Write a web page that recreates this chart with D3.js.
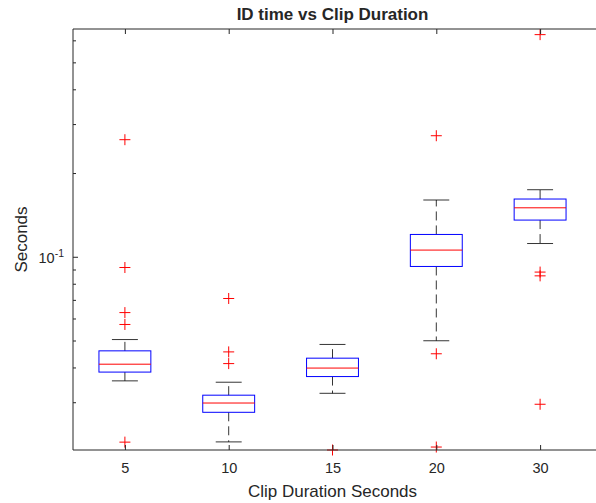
<!DOCTYPE html>
<html>
<head>
<meta charset="utf-8">
<script src="https://cdn.jsdelivr.net/npm/d3@7"></script>
<style>
  body { margin: 0; background: #fff; }
  text { font-family: "Liberation Sans", Arial, sans-serif; fill: #262626; }
</style>
</head>
<body>
<svg id="chart"></svg>
<script>
const svgWidth = 596
const svgHeight = 503

// clip durations (categories)
const categories = ["5", "10", "15", "20", "30"]
// box summaries in seconds
const whiskerLow  = [0.0358, 0.0216, 0.0323, 0.0499, 0.1116]
const q1          = [0.0385, 0.0276, 0.0371, 0.0923, 0.1355]
const medians     = [0.0411, 0.0298, 0.0398, 0.1057, 0.1500]
const q3          = [0.0459, 0.0318, 0.0432, 0.1203, 0.1613]
const whiskerHigh = [0.0504, 0.0354, 0.0484, 0.1600, 0.1742]
const outliers = [
  [0.2636, 0.0915, 0.0630, 0.0571, 0.02156],
  [0.0708, 0.0455, 0.0413],
  [0.0202],
  [0.2724, 0.0448, 0.0207],
  [0.629, 0.0881, 0.0854, 0.0295]
]
const yMajor = [0.1]
const yMinor = [0.03, 0.04, 0.05, 0.06, 0.07, 0.08, 0.09, 0.2, 0.3, 0.4, 0.5, 0.6]

let margin = { top: 29, left: 73, bottom: 53 }
let plotRight = 592
let height = svgHeight - margin.top - margin.bottom

let svg = d3.select("#chart")
  .attr("width", svgWidth)
  .attr("height", svgHeight)

let x = d3.scaleLinear()
  .domain([0.5, categories.length + 0.5])
  .range([margin.left, plotRight])

let y = d3.scaleLog()
  .domain([0.0202, 0.659])
  .range([margin.top + height, margin.top])

let boxW = (x(1) - x(0.5))   // half unit = 0.5 box width in data units
let capW = boxW / 2

// boxes
let groups = svg.append("g")
  .selectAll("g")
  .data(categories)
  .enter()
  .append("g")

groups.each(function(c, i) {
  let g = d3.select(this)
  let cx = x(i + 1)

  // dashed whiskers
  g.append("line")
    .attr("x1", cx).attr("x2", cx)
    .attr("y1", y(q3[i])).attr("y2", y(whiskerHigh[i]))
    .attr("stroke", "#000").attr("stroke-width", 0.8)
    .attr("stroke-dasharray", "9,5")
  g.append("line")
    .attr("x1", cx).attr("x2", cx)
    .attr("y1", y(q1[i])).attr("y2", y(whiskerLow[i]))
    .attr("stroke", "#000").attr("stroke-width", 0.8)
    .attr("stroke-dasharray", "9,5")

  // caps
  ;[whiskerLow[i], whiskerHigh[i]].forEach(v => {
    g.append("line")
      .attr("x1", cx - capW / 2).attr("x2", cx + capW / 2)
      .attr("y1", y(v)).attr("y2", y(v))
      .attr("stroke", "#000").attr("stroke-width", 0.8)
  })

  g.append("rect")
    .attr("x", cx - boxW / 2)
    .attr("width", boxW)
    .attr("y", y(q3[i]))
    .attr("height", y(q1[i]) - y(q3[i]))
    .attr("fill", "none")
    .attr("stroke", "#0000ff")
    .attr("stroke-width", 1)

  g.append("line")
    .attr("x1", cx - boxW / 2).attr("x2", cx + boxW / 2)
    .attr("y1", y(medians[i])).attr("y2", y(medians[i]))
    .attr("stroke", "#ff0000").attr("stroke-width", 1)

  outliers[i].forEach(v => {
    let py = y(v)
    g.append("path")
      .attr("d", `M${cx - 5.5},${py}H${cx + 5.5}M${cx},${py - 5.5}V${py + 5.5}`)
      .attr("stroke", "#ff0000").attr("stroke-width", 1)
  })
})

// axes: ticks point inward like MATLAB
let bottomAxis = d3.axisBottom(x)
  .tickValues(d3.range(1, categories.length + 1))
  .tickFormat(d => categories[d - 1])
  .tickSizeInner(-5).tickSizeOuter(0).tickPadding(13)

let xAxis = svg.append("g")
  .attr("transform", `translate(0, ${margin.top + height})`)
  .call(bottomAxis)

svg.append("g")
  .attr("transform", `translate(0, ${margin.top})`)
  .call(d3.axisTop(x).tickValues(d3.range(1, categories.length + 1))
    .tickFormat("").tickSizeInner(-5).tickSizeOuter(0))

svg.append("g")
  .attr("transform", `translate(${margin.left}, 0)`)
  .call(d3.axisLeft(y).tickValues(yMajor).tickFormat("")
    .tickSizeInner(-5).tickSizeOuter(0))

svg.append("g")
  .attr("transform", `translate(${margin.left}, 0)`)
  .call(d3.axisLeft(y).tickValues(yMinor).tickFormat("")
    .tickSizeInner(-3).tickSizeOuter(0))

svg.selectAll(".domain").remove()
svg.selectAll(".tick line").attr("stroke", "#262626")
xAxis.selectAll("text")
  .style("font-family", "Liberation Sans, Arial, sans-serif")
  .style("font-size", "14.5px")
  .attr("fill", "#262626")

// frame lines (the right side runs off the picture)
svg.append("path")
  .attr("d", `M${svgWidth + 4},${margin.top}H${margin.left}V${margin.top + height}H${svgWidth + 4}`)
  .attr("fill", "none")
  .attr("stroke", "#262626")
  .attr("stroke-width", 1)

// 10^-1 label
yMajor.forEach(v => {
  let t = svg.append("text")
    .attr("x", margin.left - 9)
    .attr("y", y(v) + 6)
    .attr("text-anchor", "end")
    .style("font-size", "14.5px")
  t.append("tspan").text("10")
  t.append("tspan").attr("dy", -6).style("font-size", "10.5px").text("-1")
})

svg.append("text")
  .attr("x", (margin.left + plotRight) / 2)
  .attr("y", 20)
  .attr("text-anchor", "middle")
  .style("font-size", "17px")
  .style("font-weight", "bold")
  .attr("fill", "#000")
  .text("ID time vs Clip Duration")

svg.append("text")
  .attr("x", (margin.left + plotRight) / 2)
  .attr("y", 497)
  .attr("text-anchor", "middle")
  .style("font-size", "17px")
  .text("Clip Duration Seconds")

svg.append("text")
  .attr("transform", `translate(27, ${margin.top + height / 2}) rotate(-90)`)
  .attr("text-anchor", "middle")
  .style("font-size", "17px")
  .text("Seconds")
</script>
</body>
</html>
